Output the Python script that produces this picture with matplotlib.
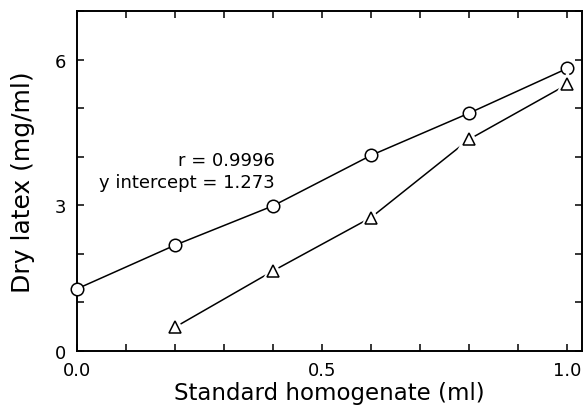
import matplotlib.pyplot as plt
from matplotlib.ticker import MultipleLocator

# data
volume = [0.0, 0.2, 0.4, 0.6, 0.8, 1.0]
latex_std = [1.28, 2.18, 2.99, 4.03, 4.90, 5.82]

volume_tri = [0.2, 0.4, 0.6, 0.8, 1.0]
latex_tri = [0.49, 1.65, 2.75, 4.36, 5.49]

fig = plt.figure(figsize=(5.83, 4.06), dpi=100)
ax = fig.add_axes([0.132, 0.133, 0.866, 0.837])

# circles with connecting line
ax.plot(volume, latex_std, color='black', linewidth=1.1, zorder=2)
ax.plot(volume, latex_std, linestyle='none', marker='o', markersize=9,
        markerfacecolor='white', markeredgecolor='black', markeredgewidth=1.1,
        zorder=3, clip_on=False)

# triangles: line broken around the markers
ax.plot(volume_tri, latex_tri, color='black', linewidth=1.1, zorder=2)
ax.plot(volume_tri, latex_tri, linestyle='none', marker='^', markersize=17,
        markerfacecolor='white', markeredgecolor='white', zorder=3)
ax.plot(volume_tri, latex_tri, linestyle='none', marker='^', markersize=9,
        markerfacecolor='white', markeredgecolor='black', markeredgewidth=1.1, zorder=4)

ax.text(0.404, 3.93, 'r = 0.9996', ha='right', va='center', fontsize=13)
ax.text(0.404, 3.48, 'y intercept = 1.273', ha='right', va='center', fontsize=13)

ax.set_xlim(0, 1.03)
ax.set_ylim(0, 7)
ax.xaxis.set_major_locator(MultipleLocator(0.5))
ax.xaxis.set_minor_locator(MultipleLocator(0.1))
ax.yaxis.set_major_locator(MultipleLocator(3))
ax.yaxis.set_minor_locator(MultipleLocator(1))
ax.xaxis.set_major_formatter(plt.FuncFormatter(lambda v, p: f'{v:.1f}'))

ax.tick_params(which='both', direction='in', top=True, right=True, width=1.1)
ax.tick_params(which='major', length=5, labelsize=13)
ax.tick_params(axis='x', which='major', pad=7.5)
ax.tick_params(axis='y', which='major', pad=8)
ax.tick_params(which='minor', length=5)
for s in ax.spines.values():
    s.set_linewidth(1.4)

ax.set_xlabel('Standard homogenate (ml)', fontsize=16.5, labelpad=1)
ax.set_ylabel('Dry latex (mg/ml)', fontsize=18, labelpad=14)

fig.savefig('out.png', dpi=100)
